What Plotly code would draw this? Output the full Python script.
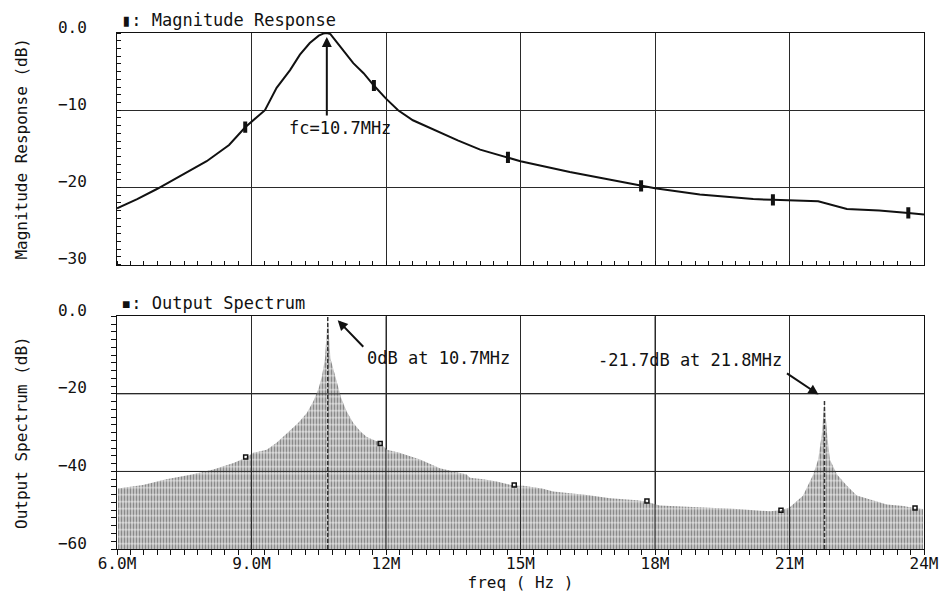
import numpy as np
import plotly.graph_objects as go

# ---------------- data ----------------
# Magnitude response (top)
mag_freq_mhz = [6.0, 6.45, 6.89, 7.56, 8.0, 8.5, 8.86, 9.3, 9.56, 9.86, 10.08, 10.3, 10.5, 10.6,
                10.68, 10.76, 10.85, 10.97, 11.27, 11.5, 11.73, 12.0, 12.27, 12.6, 13.05, 13.6,
                14.1, 14.72, 15.0, 16.1, 17.69, 18.0, 19.0, 20.19, 20.63, 21.0, 21.64, 22.28,
                23.0, 23.65, 24.0]
mag_db = [-22.7, -21.5, -20.2, -18.0, -16.6, -14.5, -12.2, -10.0, -7.1, -4.8, -2.8, -1.3, -0.35, -0.08,
          0.0, -0.15, -0.8, -1.8, -3.9, -5.2, -6.8, -8.5, -10.0, -11.3, -12.5, -13.9,
          -15.1, -16.1, -16.6, -18.0, -19.8, -20.1, -20.9, -21.5, -21.6, -21.7, -21.8, -22.8,
          -23.0, -23.3, -23.5]
mag_mark_freq = [8.86, 11.73, 14.72, 17.69, 20.63, 23.65]
mag_mark_db = [-12.2, -6.8, -16.1, -19.8, -21.6, -23.3]

# Output spectrum envelope (bottom)
spec_freq_mhz = [6.02, 6.58, 7.1, 7.67, 8.15, 8.6, 8.87, 9.04, 9.34, 9.56, 9.78, 10.04, 10.23,
                 10.38, 10.5, 10.57, 10.64, 10.7, 10.76, 10.86, 10.94, 11.0, 11.12, 11.27, 11.42,
                 11.57, 11.87, 12.02, 12.3, 12.76, 13.2, 13.8, 13.87, 14.17, 14.47, 14.86, 15.06,
                 15.48, 15.73, 16.48, 17.0, 17.6, 17.82, 18.1, 19.07, 19.83, 20.57, 20.81, 21.0,
                 21.3, 21.53, 21.64, 21.72, 21.78, 21.84, 21.9, 22.06, 22.28, 22.5, 22.8, 23.17,
                 23.54, 23.8, 23.98]
spec_db = [-44.4, -43.5, -42.0, -40.8, -39.5, -37.8, -36.5, -35.2, -34.4, -32.6, -30.3, -27.5, -25.0,
           -21.9, -18.5, -15.5, -10.8, 0.0, -10.8, -15.5, -18.5, -21.1, -24.5, -27.5, -29.6,
           -31.1, -32.6, -34.4, -35.2, -36.9, -39.2, -40.8, -41.6, -42.0, -42.6, -43.7, -43.7,
           -44.4, -45.2, -46.1, -46.9, -47.4, -47.8, -48.8, -49.3, -49.7, -50.3, -50.0, -49.3,
           -46.3, -40.8, -36.9, -30.5, -21.7, -30.5, -36.9, -40.8, -43.7, -46.2, -47.2, -48.5,
           -48.9, -49.5, -49.7]
spec_mark_freq = [8.87, 11.87, 14.86, 17.82, 20.81, 23.80]
spec_mark_db = [-36.3, -32.8, -43.5, -47.6, -50.0, -49.4]

# Axes
x_range = [6, 24]
x_tickvals = [6, 9, 12, 15, 18, 21, 24]
x_ticktext = ["6.0M", "9.0M", "12M", "15M", "18M", "21M", "24M"]
top_range = [-30, 0]
top_tickvals = [0, -10, -20, -30]
top_ticktext = ["0.0", "\u221210", "\u221220", "\u221230"]
bot_range = [-60, 0]
bot_tickvals = [0, -20, -40, -60]
bot_ticktext = ["0.0", "\u221220", "\u221240", "\u221260"]

FONT = "DejaVu Sans Mono"
INK = "#111111"
GRID = "#2a2a2a"

fig = go.Figure()

# ---------------- top: magnitude response ----------------
fig.add_trace(go.Scatter(x=mag_freq_mhz, y=mag_db, mode="lines",
                         line=dict(color=INK, width=2),
                         xaxis="x", yaxis="y", hoverinfo="skip"))
fig.add_trace(go.Scatter(x=mag_mark_freq, y=mag_mark_db, mode="markers",
                         marker=dict(symbol="line-ns", size=8, color=INK,
                                     line=dict(color=INK, width=4)),
                         xaxis="x", yaxis="y", hoverinfo="skip"))

# ---------------- bottom: output spectrum ----------------
floor = bot_range[0]
poly_x = spec_freq_mhz + [spec_freq_mhz[-1], spec_freq_mhz[0]]
poly_y = spec_db + [floor, floor]
fig.add_trace(go.Scatter(x=poly_x, y=poly_y, mode="lines", fill="toself",
                         line=dict(width=0, color="rgba(0,0,0,0)"),
                         fillcolor="rgba(0,0,0,0)",
                         fillpattern=dict(shape="|", size=3, solidity=0.7,
                                          fgcolor="#141414", bgcolor="white"),
                         xaxis="x2", yaxis="y2", hoverinfo="skip"))
fig.add_trace(go.Scatter(x=poly_x, y=poly_y, mode="lines", fill="toself",
                         line=dict(width=0, color="rgba(0,0,0,0)"),
                         fillcolor="rgba(0,0,0,0)",
                         fillpattern=dict(shape="-", size=7, solidity=0.22,
                                          fgcolor="white", bgcolor="rgba(0,0,0,0)"),
                         xaxis="x2", yaxis="y2", hoverinfo="skip"))

# dashed stems at the two spectral peaks
arr_f = np.array(spec_freq_mhz)
arr_v = np.array(spec_db)
i_main = int(np.argmax(arr_v))
mask2 = arr_f > 18
i_sec = int(np.where(mask2)[0][np.argmax(arr_v[mask2])])
for i in (i_main, i_sec):
    fig.add_trace(go.Scatter(x=[arr_f[i], arr_f[i]], y=[floor, arr_v[i]], mode="lines",
                             line=dict(color="#333333", width=1.5, dash="4px,2px"),
                             xaxis="x2", yaxis="y2", hoverinfo="skip"))

fig.add_trace(go.Scatter(x=spec_mark_freq, y=spec_mark_db, mode="markers",
                         marker=dict(symbol="square-open", size=4, color=INK,
                                     line=dict(color=INK, width=1.5)),
                         xaxis="x2", yaxis="y2", hoverinfo="skip"))

# gridlines above the filled spectrum
shapes = []
for xv in x_tickvals[1:-1]:
    shapes.append(dict(type="line", xref="x2", yref="y2 domain", x0=xv, x1=xv, y0=0, y1=1,
                       line=dict(color=GRID, width=1), layer="above"))
for yv in bot_tickvals[1:-1]:
    shapes.append(dict(type="line", xref="x2 domain", yref="y2", x0=0, x1=1, y0=yv, y1=yv,
                       line=dict(color=GRID, width=1), layer="above"))

# ---------------- annotations ----------------
mag_f = np.array(mag_freq_mhz)
mag_v = np.array(mag_db)
j_peak = int(np.argmax(mag_v))
annotations = [
    dict(text="\u25ae: Magnitude Response", xref="x domain", yref="y domain", x=0.0, y=1.0,
         xanchor="left", yanchor="bottom", showarrow=False, xshift=2, yshift=1,
         font=dict(size=17)),
    dict(text="\u25aa: Output Spectrum", xref="x2 domain", yref="y2 domain", x=0.0, y=1.0,
         xanchor="left", yanchor="bottom", showarrow=False, xshift=2, yshift=1,
         font=dict(size=17)),
    # fc arrow
    dict(text="", x=mag_f[j_peak], y=mag_v[j_peak], xref="x", yref="y",
         ax=0, ay=84, showarrow=True, arrowhead=2, arrowsize=1, arrowwidth=2,
         arrowcolor=INK, standoff=4),
    dict(text="fc=10.7MHz", x=mag_f[j_peak], y=mag_v[j_peak], xref="x", yref="y",
         xanchor="center", yanchor="middle", showarrow=False, xshift=13, yshift=-95,
         font=dict(size=17)),
    # 0 dB arrow
    dict(text="", x=arr_f[i_main], y=arr_v[i_main], xref="x2", yref="y2",
         xshift=10, yshift=-4, ax=27, ay=28, showarrow=True, arrowhead=2, arrowsize=1,
         arrowwidth=2, arrowcolor=INK),
    dict(text="0dB at 10.7MHz", x=arr_f[i_main], y=arr_v[i_main], xref="x2", yref="y2",
         xanchor="left", yanchor="middle", showarrow=False, xshift=37, yshift=-42,
         font=dict(size=17)),
    # -21.7 dB arrow
    dict(text="", x=arr_f[i_sec], y=arr_v[i_sec], xref="x2", yref="y2",
         xshift=-6, yshift=6, ax=-33, ay=-22, showarrow=True, arrowhead=2, arrowsize=1,
         arrowwidth=2, arrowcolor=INK),
    dict(text="-21.7dB at 21.8MHz", x=arr_f[i_sec], y=arr_v[i_sec], xref="x2", yref="y2",
         xanchor="right", yanchor="middle", showarrow=False, xshift=-40, yshift=40,
         font=dict(size=17)),
]

axis_common = dict(showline=True, linecolor=INK, linewidth=1, mirror=True,
                   showgrid=True, gridcolor=GRID, gridwidth=1, zeroline=False,
                   tickfont=dict(size=16, color=INK))

fig.update_layout(
    width=950, height=600,
    margin=dict(l=117, r=26, t=33, b=48),
    paper_bgcolor="white", plot_bgcolor="white",
    showlegend=False,
    font=dict(family=FONT, size=16, color=INK),
    xaxis=dict(axis_common, domain=[0, 1], range=x_range, anchor="y",
               tickvals=x_tickvals, showticklabels=False, ticks="",
               minor=dict(dtick=0.3, tick0=6, ticks="inside", ticklen=4, tickcolor=INK,
                          showgrid=False)),
    yaxis=dict(axis_common, domain=[0.551, 1], range=top_range, anchor="x",
               tickvals=top_tickvals, ticktext=top_ticktext, ticks="",
               ticklabelstandoff=26, ticklabelshift=-6,
               title=dict(text="Magnitude Response (dB)", font=dict(size=16), standoff=26),
               minor=dict(dtick=1, tick0=0, ticks="inside", ticklen=4, tickcolor=INK,
                          showgrid=False)),
    xaxis2=dict(axis_common, domain=[0, 1], range=x_range, anchor="y2",
                tickvals=x_tickvals, ticktext=x_ticktext, ticks="",
                title=dict(text="freq ( Hz )", font=dict(size=16), standoff=4),
                minor=dict(dtick=0.3, tick0=6, ticks="outside", ticklen=5, tickcolor=INK,
                           showgrid=False)),
    yaxis2=dict(axis_common, domain=[0, 0.451], range=bot_range, anchor="x2",
                tickvals=bot_tickvals, ticktext=bot_ticktext, ticks="",
                ticklabelstandoff=26, ticklabelshift=-6,
                title=dict(text="Output Spectrum (dB)", font=dict(size=16), standoff=26),
                minor=dict(dtick=2, tick0=0, ticks="outside", ticklen=5, tickcolor=INK,
                           showgrid=False)),
    shapes=shapes,
    annotations=annotations,
)

fig.write_html("out.html")
